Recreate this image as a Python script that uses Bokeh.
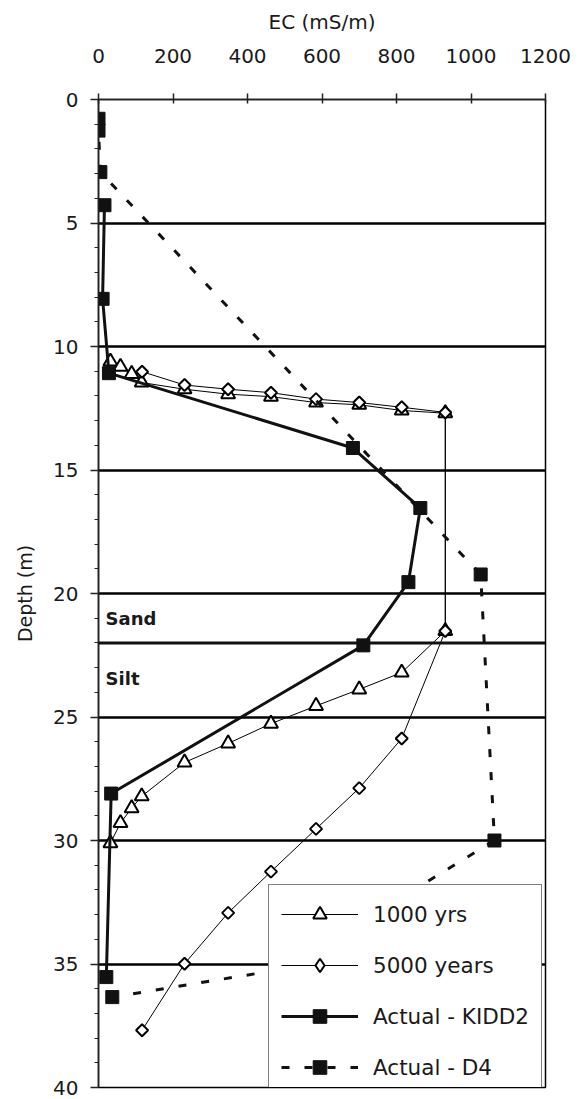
from math import pi
from bokeh.plotting import figure
from bokeh.models import Range1d, FixedTicker, Span, Legend, LegendItem
from bokeh.core.properties import value
from bokeh.embed import file_html
from bokeh.resources import INLINE

# ---------------- data ----------------
ec_1000 = [32, 59, 89, 116, 231, 348, 463, 584, 700, 814, 931,
           931, 814, 700, 584, 463, 348, 231, 116, 89, 59, 32]
depth_1000 = [10.61, 10.82, 11.11, 11.46, 11.73, 11.93, 12.03, 12.27, 12.36, 12.59, 12.70,
              21.52, 23.20, 23.88, 24.55, 25.27, 26.07, 26.84, 28.21, 28.69, 29.29, 30.11]

ec_5000 = [117, 231, 348, 463, 584, 700, 814, 931,
           931, 814, 700, 584, 463, 348, 231, 117]
depth_5000 = [11.02, 11.56, 11.73, 11.87, 12.13, 12.27, 12.46, 12.67,
              21.52, 25.87, 27.88, 29.53, 31.26, 32.93, 34.99, 37.68]

ec_kidd2 = [16, 11, 28, 683, 864, 832, 711, 34, 21]
depth_kidd2 = [4.28, 8.07, 11.08, 14.11, 16.54, 19.54, 22.10, 28.10, 35.53]

ec_d4 = [0, 0, 5, 1026, 1063, 500, 37]
depth_d4 = [0.78, 1.26, 2.94, 19.23, 30.00, 35.20, 36.34]

x_ticks = [0, 200, 400, 600, 800, 1000, 1200]
y_ticks = [0, 5, 10, 15, 20, 25, 30, 35, 40]
y_minor = list(range(0, 41))
grid_depths = [5, 10, 15, 20, 25, 30, 35]
boundary_depth = 22
layer_labels = ["Sand", "Silt"]
layer_label_ec = [19, 19]
layer_label_depth = [21.0, 23.45]

FONT = "DejaVu Sans"

p = figure(width=581, height=1099, output_backend="svg", toolbar_location=None,
           x_range=Range1d(0, 1200), y_range=Range1d(40, 0), x_axis_location="above",
           min_border_left=98, min_border_right=36, min_border_top=99, min_border_bottom=12,
           background_fill_color="white", border_fill_color="white")

p.outline_line_color = "black"
p.outline_line_width = 1.5

# axes
xa = p.xaxis[0]
xa.ticker = FixedTicker(ticks=x_ticks)
xa.axis_label = "EC (mS/m)"
xa.axis_label_text_font = FONT
xa.axis_label_text_font_size = "20px"
xa.axis_label_text_font_style = "normal"
xa.axis_label_text_color = "#1a1a1a"
xa.axis_label_standoff = 12
xa.major_label_text_font = FONT
xa.major_label_text_font_size = "20px"
xa.major_label_text_color = "#1a1a1a"
xa.major_label_standoff = 31
xa.major_tick_in = 4
xa.major_tick_out = 6
xa.minor_tick_in = 0
xa.minor_tick_out = 0
xa.axis_line_color = "#222222"
xa.axis_line_width = 1.5
xa.major_tick_line_color = "#222222"
xa.major_tick_line_width = 1.5

ya = p.yaxis[0]
ya.ticker = FixedTicker(ticks=y_ticks, minor_ticks=y_minor)
ya.axis_label = "Depth (m)"
ya.axis_label_text_font = FONT
ya.axis_label_text_font_size = "19px"
ya.axis_label_text_font_style = "normal"
ya.axis_label_text_color = "#1a1a1a"
ya.axis_label_standoff = 14
ya.major_label_text_font = FONT
ya.major_label_text_font_size = "20px"
ya.major_label_text_color = "#1a1a1a"
ya.major_label_standoff = 12
ya.major_tick_in = 0
ya.major_tick_out = 8
ya.minor_tick_in = 0
ya.minor_tick_out = 4
ya.axis_line_color = "#222222"
ya.axis_line_width = 1.5
ya.major_tick_line_color = "#222222"
ya.major_tick_line_width = 1.5
ya.minor_tick_line_color = "#222222"
ya.minor_tick_line_width = 1.2

p.xgrid.visible = False
p.ygrid.ticker = FixedTicker(ticks=grid_depths)
p.ygrid.grid_line_color = "black"
p.ygrid.grid_line_width = 2.5
p.ygrid.grid_line_alpha = 1.0

p.add_layout(Span(location=boundary_depth, dimension="width",
                  line_color="#111111", line_width=3))

# layer labels
p.text(x=layer_label_ec, y=layer_label_depth, text=layer_labels,
       text_font=value(FONT), text_font_style="bold", text_font_size="18px",
       text_color="#1a1a1a", text_baseline="middle", text_align="left")

# 1000 yrs
l1 = p.line(ec_1000, depth_1000, line_color="black", line_width=1)
m1 = p.scatter(ec_1000, depth_1000, marker="triangle", size=14,
               fill_color="white", line_color="black", line_width=2)

# 5000 years (legend-only diamond renderer with zero size in plot)
m2_leg = p.scatter(ec_5000, depth_5000, marker="diamond", size=0,
                   fill_color="white", line_color="black", line_width=2, line_alpha=1)
l2 = p.line(ec_5000, depth_5000, line_color="black", line_width=1)
m2 = p.scatter(ec_5000, depth_5000, marker="square", size=8.5, angle=pi / 4,
               fill_color="white", line_color="black", line_width=2)

# Actual - KIDD2
l3 = p.line(ec_kidd2, depth_kidd2, line_color="#111111", line_width=3)
m3 = p.scatter(ec_kidd2, depth_kidd2, marker="square", size=13,
               fill_color="#111111", line_color="#111111", line_width=1)

# Actual - D4
l4 = p.line(ec_d4, depth_d4, line_color="#111111", line_width=3, line_dash="8 15")
m4 = p.scatter(ec_d4, depth_d4, marker="square", size=13,
               fill_color="#111111", line_color="#111111", line_width=1)

legend = Legend(items=[
    LegendItem(label="1000 yrs", renderers=[l1, m1]),
    LegendItem(label="5000 years", renderers=[l2, m2_leg]),
    LegendItem(label="Actual - KIDD2", renderers=[l3, m3]),
    LegendItem(label="Actual - D4", renderers=[l4, m4]),
], location=(170, -10))
legend.label_text_font = FONT
legend.label_text_font_size = "21.5px"
legend.label_text_color = "#1a1a1a"
legend.glyph_width = 77
legend.glyph_height = 34
legend.label_height = 34
legend.spacing = 17
legend.padding = 12
legend.label_standoff = 15
legend.margin = 0
legend.border_line_color = "black"
legend.border_line_width = 1.5
legend.background_fill_color = "white"
legend.background_fill_alpha = 1.0
p.add_layout(legend, "center")

open("out.html", "w").write(file_html(p, INLINE))
